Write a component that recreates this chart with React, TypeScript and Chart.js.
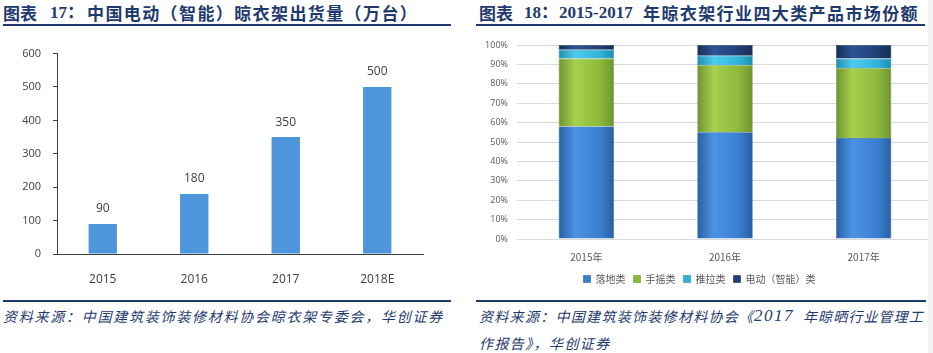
import React, { useEffect, useRef } from "react";
import { Chart, registerables } from "chart.js";

Chart.register(...registerables);

// ---- Data: left chart (电动晾衣架出货量, 万台)
const shipYears = ["2015", "2016", "2017", "2018E"];
const shipValues = [90, 180, 350, 500];
const shipTicks = [0, 100, 200, 300, 400, 500, 600];

// ---- Data: right chart (市场份额 %)
const shareYears = ["2015年", "2016年", "2017年"];
const shareSeriesNames = ["落地类", "手摇类", "推拉类", "电动（智能）类"];
const shareFloor = [58, 55, 52];
const shareHand = [35, 34.5, 36];
const sharePush = [4.5, 5, 5];
const shareElectric = [2.5, 5.5, 7];
const shareTicks = [0, 10, 20, 30, 40, 50, 60, 70, 80, 90, 100];

const NAVY = "#1F3A6E";
const CJK = '"Noto Sans CJK SC", sans-serif';
const SERIF = '"Liberation Serif", "Noto Sans CJK SC", serif';

const seriesColors = [
  { light: "#4C93E3", base: "#3A7ED0", dark: "#2A5FA3" },
  { light: "#A6D04E", base: "#8DB83B", dark: "#6E9430" },
  { light: "#4ECBEE", base: "#2FB3D9", dark: "#1F8CB0" },
  { light: "#2E5494", base: "#203F74", dark: "#162D55" },
];

function T(props: any) {
  const { x, y, size, family, weight, italic, spacing, color, children } = props;
  const lh = Math.round(size * 1.5);
  return (
    <div
      style={{
        position: "absolute",
        left: x,
        top: y - lh / 2,
        lineHeight: lh + "px",
        fontSize: size,
        fontFamily: family,
        fontWeight: weight || "normal",
        fontStyle: italic ? "italic" : "normal",
        letterSpacing: spacing || 0,
        color: color || NAVY,
        whiteSpace: "nowrap",
      }}
    >
      {children}
    </div>
  );
}

function LeftChart() {
  const ref = useRef<HTMLCanvasElement>(null);
  useEffect(() => {
    const labelPlugin = {
      id: "valueLabels",
      afterDatasetsDraw(chart: any) {
        const ctx = chart.ctx;
        const meta = chart.getDatasetMeta(0);
        ctx.save();
        ctx.fillStyle = "#404040";
        ctx.font = '12px "Open Sans", sans-serif';
        ctx.textAlign = "center";
        ctx.textBaseline = "middle";
        meta.data.forEach((el: any, i: number) => {
          ctx.fillText(String(shipValues[i]), el.x, el.y - 15);
        });
        ctx.restore();
      },
    };
    const chart = new Chart(ref.current!, {
      type: "bar",
      data: {
        labels: shipYears,
        datasets: [
          {
            data: shipValues,
            backgroundColor: "#4E96DC",
            barPercentage: 0.31,
            categoryPercentage: 1,
          },
        ],
      },
      options: {
        animation: false,
        responsive: false,
        layout: { padding: { top: 18, right: 43, left: 0, bottom: 0 } },
        plugins: { legend: { display: false }, tooltip: { enabled: false } },
        scales: {
          x: {
            grid: { display: false },
            border: { display: true, color: "#404040", width: 1 },
            ticks: { color: "#404040", font: { size: 12, family: '"Open Sans", sans-serif' }, padding: 10 },
            afterFit: (s: any) => {
              s.height = 31;
            },
          },
          y: {
            min: 0,
            max: 600,
            afterBuildTicks: (s: any) => {
              s.ticks = shipTicks.map((v) => ({ value: v }));
            },
            grid: { display: true, drawOnChartArea: false, drawTicks: true, tickLength: 4, color: "#404040" },
            border: { display: true, color: "#404040", width: 1 },
            ticks: { color: "#404040", font: { size: 11, family: '"Open Sans", sans-serif' }, padding: 12 },
            afterFit: (s: any) => {
              s.width = 57;
            },
          },
        },
      },
      plugins: [labelPlugin],
    });
    return () => chart.destroy();
  }, []);
  return (
    <canvas
      ref={ref}
      width={466}
      height={250}
      style={{ position: "absolute", left: 0, top: 35, width: 466, height: 250 }}
    />
  );
}

function RightChart() {
  const ref = useRef<HTMLCanvasElement>(null);
  useEffect(() => {
    const makeFill = (c: any) => (ctx: any) => {
      const chart = ctx.chart;
      const xs = chart.scales && chart.scales.x;
      const area = chart.chartArea;
      if (!area || !xs || ctx.dataIndex === undefined) return c.base;
      const cx = xs.getPixelForValue(ctx.dataIndex);
      const w = ((area.right - area.left) / shareYears.length) * 0.4;
      const g = chart.ctx.createLinearGradient(cx - w / 2, 0, cx + w / 2, 0);
      g.addColorStop(0, c.dark);
      g.addColorStop(0.3, c.light);
      g.addColorStop(0.75, c.base);
      g.addColorStop(1, c.dark);
      return g;
    };
    const values = [shareFloor, shareHand, sharePush, shareElectric];
    const chart = new Chart(ref.current!, {
      type: "bar",
      data: {
        labels: shareYears,
        datasets: values.map((d, i) => ({
          label: shareSeriesNames[i],
          data: d,
          backgroundColor: makeFill(seriesColors[i]),
          borderColor: seriesColors[i].dark,
          borderWidth: 0.6,
          barPercentage: 0.4,
          categoryPercentage: 1,
        })),
      },
      options: {
        animation: false,
        responsive: false,
        layout: { padding: { top: 15, right: 0, left: 0, bottom: 0 } },
        plugins: {
          tooltip: { enabled: false },
          legend: {
            position: "bottom",
            labels: {
              boxWidth: 7,
              boxHeight: 7,
              padding: 8,
              color: "#595959",
              font: { size: 10, family: CJK },
              generateLabels: () =>
                shareSeriesNames.map((n, i) => ({
                  text: n,
                  fillStyle: seriesColors[i].base,
                  strokeStyle: seriesColors[i].dark,
                  lineWidth: 0.6,
                  hidden: false,
                  datasetIndex: i,
                  fontColor: "#595959",
                })),
            },
          },
        },
        scales: {
          x: {
            stacked: true,
            grid: { display: false },
            border: { display: false },
            ticks: { color: "#595959", font: { size: 10, family: CJK }, padding: 4 },
            afterFit: (s: any) => {
              s.height = 27;
            },
          },
          y: {
            stacked: true,
            min: 0,
            max: 100,
            afterBuildTicks: (s: any) => {
              s.ticks = shareTicks.map((v) => ({ value: v }));
            },
            grid: { color: "#D9D9D9", drawTicks: false },
            border: { display: false },
            ticks: {
              color: "#595959",
              font: { size: 9, family: '"Open Sans", sans-serif' },
              padding: 9,
              callback: (v: any) => v + "%",
            },
            afterFit: (s: any) => {
              s.width = 51;
            },
          },
        },
      },
    });
    return () => chart.destroy();
  }, []);
  return (
    <canvas
      ref={ref}
      width={467}
      height={264}
      style={{ position: "absolute", left: 466, top: 30, width: 467, height: 264 }}
    />
  );
}

export default function App() {
  return (
    <div
      style={{
        position: "absolute",
        left: 0,
        top: 0,
        width: 933,
        height: 353,
        overflow: "hidden",
        background: "#ffffff",
      }}
    >
      {/* Left title */}
      <T x={3} y={13} size={17} family={CJK} weight="bold">图表</T>
      <T x={50} y={13} size={17} family={SERIF} weight="bold">17：</T>
      <T x={87} y={13} size={17} family={CJK} weight="bold" spacing={1.4}>
        中国电动（智能）晾衣架出货量（万台）
      </T>
      <div style={{ position: "absolute", left: 3, top: 24, width: 448, height: 2, background: NAVY }} />

      {/* Right title */}
      <T x={479} y={13} size={17} family={CJK} weight="bold">图表</T>
      <T x={524} y={13} size={17} family={SERIF} weight="bold">18：</T>
      <T x={559} y={13} size={17} family={SERIF} weight="bold">2015-2017</T>
      <T x={643} y={13} size={17} family={CJK} weight="bold" spacing={1.4}>
        年晾衣架行业四大类产品市场份额
      </T>
      <div style={{ position: "absolute", left: 476, top: 24, width: 449, height: 2, background: NAVY }} />

      <LeftChart />
      <RightChart />

      {/* Source lines */}
      <div style={{ position: "absolute", left: 3, top: 300, width: 448, height: 2, background: NAVY }} />
      <div style={{ position: "absolute", left: 476, top: 300, width: 450, height: 2, background: NAVY }} />

      <T x={3} y={316} size={14} family={CJK} italic spacing={1.75}>
        资料来源：中国建筑装饰装修材料协会晾衣架专委会，华创证券
      </T>
      <T x={479} y={316} size={14} family={CJK} italic spacing={1.3}>
        资料来源：中国建筑装饰装修材料协会《
      </T>
      <T x={754} y={316} size={17} family={SERIF} italic spacing={1.5}>2017</T>
      <T x={803} y={316} size={14} family={CJK} italic spacing={1.1}>
        年晾晒行业管理工
      </T>
      <T x={479} y={343} size={14} family={CJK} italic spacing={1.4}>
        作报告》，华创证券
      </T>

      <div style={{ position: "absolute", left: 928, top: 0, width: 5, height: 353, background: "#F2F2F2" }} />
    </div>
  );
}
